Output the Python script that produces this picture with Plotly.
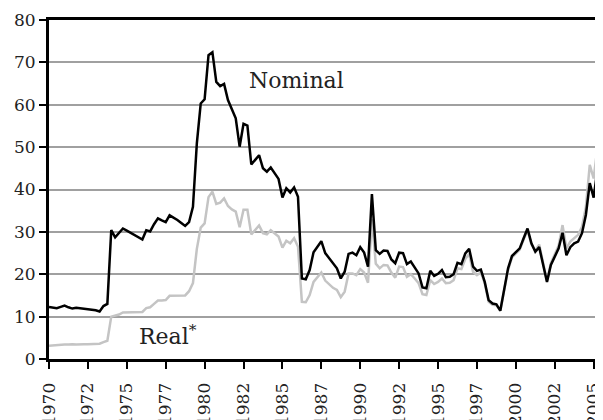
import plotly.graph_objects as go

# Quarterly oil prices, 1970Q1 onwards
nominal = [12.3, 12.1, 12.0, 12.3, 12.6, 12.2, 11.9, 12.1, 12.0, 11.9,
           11.8, 11.7, 11.5, 11.2, 12.5, 13.0, 30.4, 28.7, 29.8, 30.8,
           30.3, 29.8, 29.3, 28.8, 28.2, 30.4, 30.1, 31.8, 33.2, 32.7,
           32.3, 33.9, 33.4, 32.8, 32.1, 31.4, 32.3, 35.9, 50.9, 60.3,
           61.3, 71.7, 72.4, 65.4, 64.4, 64.9, 61.1, 58.8, 56.8, 50.1,
           55.5, 55.1, 45.9, 47.0, 48.1, 45.0, 44.2, 45.2, 43.8, 42.5,
           38.1, 40.3, 39.3, 40.5, 38.3, 19.0, 18.8, 21.0, 25.2, 26.5,
           27.8, 25.0, 23.8, 22.6, 21.4, 19.0, 20.6, 24.8, 25.1, 24.5,
           26.4, 25.1, 21.8, 38.9, 25.7, 24.8, 25.6, 25.5, 23.5, 22.6,
           25.1, 25.0, 22.4, 23.0, 21.6, 20.2, 16.9, 16.7, 20.8, 19.6,
           20.1, 21.0, 19.3, 19.4, 20.0, 22.7, 22.4, 24.9, 26.0, 21.8,
           20.8, 21.1, 18.2, 13.9, 13.1, 12.9, 11.4, 16.3, 21.4, 24.3,
           25.1, 26.1, 28.5, 30.8, 27.3, 25.3, 26.4, 22.6, 18.2, 22.2,
           24.1, 26.1, 29.8, 24.5, 26.4, 27.3, 27.7, 29.7, 34.0, 41.5,
           38.1, 45.0, 47.7, 52.0]

real = [3.1, 3.2, 3.2, 3.3, 3.4, 3.4, 3.5, 3.4, 3.5, 3.5,
        3.5, 3.5, 3.5, 3.6, 4.0, 4.3, 10.0, 10.3, 10.5, 11.0,
        11.0, 11.0, 11.0, 11.0, 11.1, 12.0, 12.2, 13.0, 13.8, 13.8,
        13.9, 14.9, 14.9, 14.9, 14.9, 15.0, 16.0, 17.9, 26.0, 31.0,
        32.0, 38.2, 39.5, 36.6, 36.9, 37.9, 36.1, 35.3, 34.8, 31.1,
        35.2, 35.2, 29.4, 30.4, 31.5, 29.7, 29.4, 30.4, 29.7, 28.9,
        26.3, 27.9, 27.3, 28.5, 26.5, 13.5, 13.4, 15.1, 18.2, 19.3,
        20.4, 18.5, 17.7, 16.8, 16.3, 14.6, 15.9, 20.2, 20.2, 19.8,
        21.2, 20.4, 18.0, 33.0, 22.5, 21.4, 22.2, 22.1, 20.4, 19.2,
        21.8, 21.7, 19.4, 20.0, 19.0, 17.9, 15.3, 15.1, 18.6, 17.7,
        18.2, 19.0, 17.9, 18.0, 18.6, 21.4, 21.2, 23.6, 24.8, 20.6,
        19.8, 20.4, 17.9, 13.5, 12.8, 12.7, 11.4, 16.0, 21.0, 24.0,
        24.8, 25.8, 28.2, 30.4, 27.0, 25.6, 27.0, 22.7, 18.4, 22.6,
        24.6, 26.8, 31.6, 26.1, 27.7, 28.5, 29.3, 31.2, 35.9, 45.8,
        42.6, 50.1, 55.6, 62.0]

tick_labels = ["1970", "1972", "1975", "1977", "1980", "1982", "1985", "1987",
               "1990", "1992", "1995", "1997", "2000", "2002", "2005"]

quarters = list(range(len(nominal)))
tick_positions = [10 * k for k in range(len(tick_labels))]

FONT = "DejaVu Serif"

fig = go.Figure()
fig.add_trace(go.Scatter(x=quarters, y=real, mode="lines",
                         line=dict(color="#c4c4c4", width=2.5), name="Real*",
                         showlegend=False))
fig.add_trace(go.Scatter(x=quarters, y=nominal, mode="lines",
                         line=dict(color="#000000", width=2.5), name="Nominal",
                         showlegend=False))

fig.add_annotation(x=63.5, y=65.8, text="Nominal", showarrow=False,
                   font=dict(family=FONT, size=22, color="#222"))
fig.add_annotation(x=30.5, y=5.6, text="Real<sup>*</sup>", showarrow=False,
                   font=dict(family=FONT, size=22, color="#222"))

# page body has an 8px margin, so the figure is sized/offset to compensate
fig.update_layout(
    width=595, height=412,
    margin=dict(l=41, r=0, t=12, b=61, autoexpand=False),
    paper_bgcolor="white", plot_bgcolor="white",
    font=dict(family=FONT, size=17, color="#222"),
    xaxis=dict(range=[0, 142.4], tickmode="array", tickvals=tick_positions,
               ticktext=tick_labels, tickangle=-90, ticks="outside",
               ticklen=7, tickwidth=2, tickcolor="black",
               ticklabelstandoff=7, ticklabeloverflow="allow",
               showline=True, linecolor="black", linewidth=3, mirror=True,
               showgrid=False, zeroline=False, automargin=False,
               tickfont=dict(family=FONT, size=17, color="#222")),
    yaxis=dict(range=[0, 80], dtick=10, ticks="outside", ticklen=7,
               tickwidth=2, tickcolor="black",
               showline=True, linecolor="black", linewidth=3,
               showgrid=True, gridcolor="#a0a0a0", gridwidth=2,
               zeroline=False, automargin=False,
               tickfont=dict(family=FONT, size=17, color="#222")),
)

fig.write_html("out.html")
